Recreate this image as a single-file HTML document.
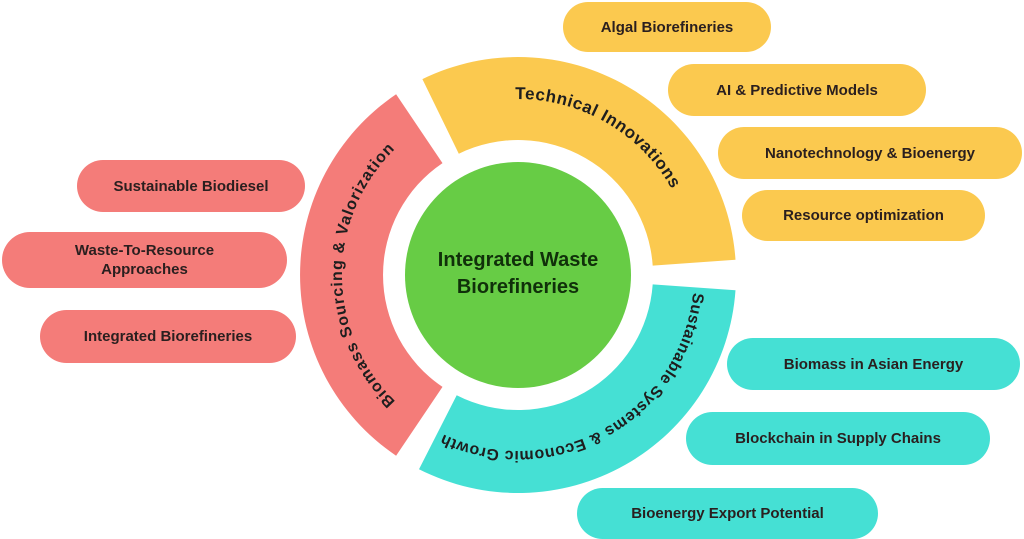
<!DOCTYPE html>
<html><head><meta charset="utf-8"><style>
body{margin:0;width:1024px;height:539px;background:#fff;overflow:hidden;position:relative;font-family:"Liberation Sans",sans-serif}
.p{position:absolute;border-radius:30px;display:flex;align-items:center;justify-content:center;text-align:center;font-weight:bold;font-size:15px;color:#2a1f1f;line-height:19px}
.y{background:#fbc94f}.r{background:#f47c79}.t{background:#45e0d4}
</style></head><body>
<svg width="1024" height="539" style="position:absolute;left:0;top:0">
<defs>
<path id="pr" d="M 419.6 420.9 A 176 176 0 0 1 419.6 129.1"/>
<path id="py" d="M 440.9 116.8 A 176 176 0 0 1 693.6 262.7"/>
<path id="pt" d="M 693.6 287.3 A 176 176 0 0 1 438.1 431.8"/>
</defs>
<path d="M 396.1 455.7 A 218 218 0 0 1 396.1 94.3 L 442.5 163.1 A 135 135 0 0 0 442.5 386.9 Z" fill="#f47c79"/>
<path d="M 422.4 79.1 A 218 218 0 0 1 735.5 259.8 L 652.7 265.6 A 135 135 0 0 0 458.8 153.7 Z" fill="#fbc94f"/>
<path d="M 735.5 290.2 A 218 218 0 0 1 419 469.2 L 456.7 395.3 A 135 135 0 0 0 652.7 284.4 Z" fill="#45e0d4"/>
<circle cx="518" cy="275" r="113" fill="#67cc45"/>
<text font-family="Liberation Sans" font-weight="bold" font-size="16" letter-spacing="1" fill="#1e1e1e"><textPath href="#pr" startOffset="50%" text-anchor="middle">Biomass Sourcing &amp; Valorization</textPath></text>
<text font-family="Liberation Sans" font-weight="bold" font-size="17" letter-spacing="0.6" fill="#1e1e1e"><textPath href="#py" startOffset="50%" text-anchor="middle">Technical Innovations</textPath></text>
<text font-family="Liberation Sans" font-weight="bold" font-size="16" letter-spacing="0.5" fill="#1e1e1e"><textPath href="#pt" startOffset="50%" text-anchor="middle">Sustainable Systems &amp; Economic Growth</textPath></text>
<text x="518" y="266" text-anchor="middle" font-family="Liberation Sans" font-weight="bold" font-size="20" fill="#10300a">Integrated Waste</text>
<text x="518" y="293" text-anchor="middle" font-family="Liberation Sans" font-weight="bold" font-size="20" fill="#10300a">Biorefineries</text>
</svg>
<div class="p y" style="left:563px;top:2px;width:208px;height:50px">Algal Biorefineries</div>
<div class="p y" style="left:668px;top:64px;width:258px;height:52px">AI &amp; Predictive Models</div>
<div class="p y" style="left:718px;top:127px;width:304px;height:52px">Nanotechnology &amp; Bioenergy</div>
<div class="p y" style="left:742px;top:190px;width:243px;height:51px">Resource optimization</div>
<div class="p r" style="left:77px;top:160px;width:228px;height:52px">Sustainable Biodiesel</div>
<div class="p r" style="left:2px;top:232px;width:285px;height:56px">Waste-To-Resource<br>Approaches</div>
<div class="p r" style="left:40px;top:310px;width:256px;height:53px">Integrated Biorefineries</div>
<div class="p t" style="left:727px;top:338px;width:293px;height:52px">Biomass in Asian Energy</div>
<div class="p t" style="left:686px;top:412px;width:304px;height:53px">Blockchain in Supply Chains</div>
<div class="p t" style="left:577px;top:488px;width:301px;height:51px">Bioenergy Export Potential</div>
</body></html>
